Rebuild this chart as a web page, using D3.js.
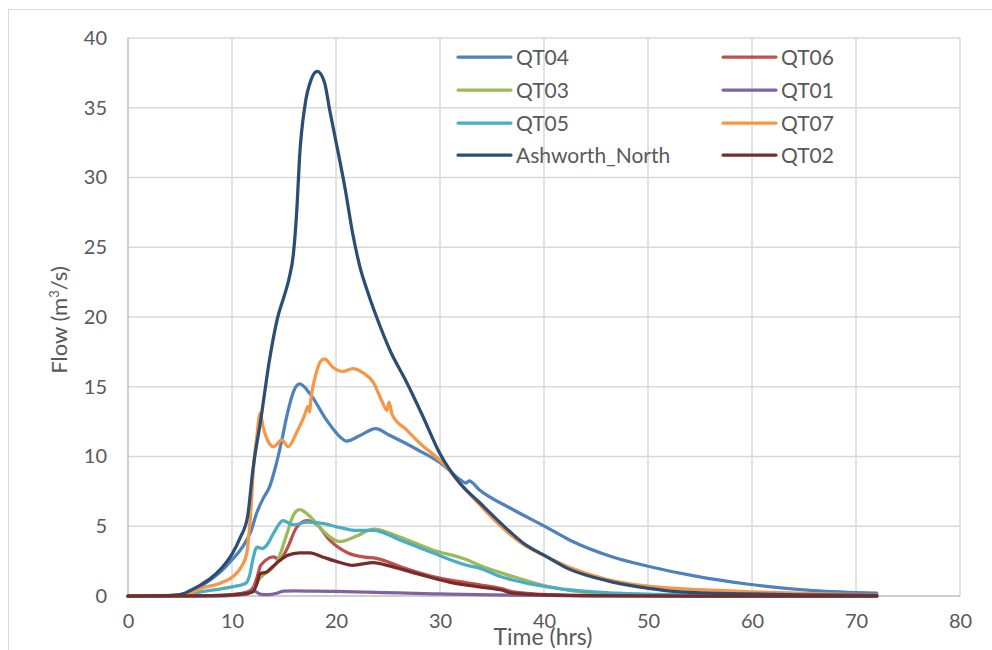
<!DOCTYPE html>
<html>
<head>
<meta charset="utf-8">
<script src="https://cdn.jsdelivr.net/npm/d3@7"></script>
<style>
  html, body { margin: 0; padding: 0; background: #fff; }
  svg { display: block; }
  text { font-family: Lato, "Open Sans", sans-serif; fill: #595959; }
</style>
</head>
<body>
<svg id="chart" width="992" height="650"></svg>
<script>
// ---- data ----
const xTicks = [0, 10, 20, 30, 40, 50, 60, 70, 80];
const yTicks = [0, 5, 10, 15, 20, 25, 30, 35, 40];
const seriesNames = ["QT04", "QT06", "QT03", "QT01", "QT05", "QT07", "Ashworth_North", "QT02"];
const seriesColors = ["#4F81BD", "#C0504D", "#9BBB59", "#8064A2", "#4BACC6", "#F79646", "#2C4D75", "#772C2A"];

const QT04 = [[0,0],[4,0.03],[5,0.1],[6,0.3],[7,0.7],[8,1.2],[9,1.8],[10,2.6],[11,3.5],[11.8,4.6],[12.4,6.0],[13,7.0],[13.6,7.8],[14.2,9.3],[14.8,11.2],[15.3,13.0],[16.0,14.8],[16.5,15.2],[17.5,14.5],[19.1,12.6],[20.4,11.4],[21,11.1],[22.3,11.5],[23.8,12.0],[25.2,11.5],[27.8,10.5],[30.3,9.4],[32,8.3],[32.5,8.1],[32.8,8.25],[33.8,7.6],[37,6.2],[40.3,4.9],[42.5,4.0],[46.6,2.8],[49.9,2.15],[54.7,1.4],[59.5,0.86],[65.9,0.38],[72,0.2]];
const QT06 = [[0,0],[8,0.02],[10,0.1],[11.5,0.3],[12,0.55],[12.4,1.3],[12.7,2.1],[13.0,2.4],[13.3,2.6],[14.0,2.8],[14.3,2.7],[14.6,2.6],[15.3,3.4],[16.2,4.9],[17.2,5.4],[18.2,5.1],[19.4,4.0],[21.1,3.1],[22.6,2.8],[23.9,2.7],[26.2,2.1],[29.3,1.4],[32.6,0.95],[33.8,0.8],[35.8,0.55],[37,0.3],[40.3,0.1],[45,0.03],[55,0.01],[72,0]];
const QT03 = [[0,0],[8,0.02],[10,0.05],[11.5,0.2],[12,0.4],[12.6,1.2],[13,1.5],[14.3,2.4],[15.3,4.5],[15.9,5.8],[16.5,6.2],[17.5,5.7],[18.7,4.7],[20.4,3.9],[22,4.3],[23.6,4.8],[26.2,4.2],[29.3,3.3],[32.6,2.6],[33.8,2.2],[37,1.4],[40.3,0.7],[43.5,0.3],[47,0.12],[52,0.04],[60,0.01],[72,0]];
const QT01 = [[0,0],[8,0.01],[10,0.05],[11.5,0.15],[12.0,0.5],[12.3,0.3],[12.8,0.12],[13.5,0.1],[14.3,0.2],[15,0.35],[16,0.36],[18,0.35],[20,0.33],[23,0.28],[26,0.22],[30,0.15],[35,0.08],[40,0.04],[45,0.01],[72,0]];
const QT05 = [[0,0],[5,0.05],[7,0.3],[10,0.65],[11.3,0.9],[11.7,1.5],[12,2.6],[12.4,3.5],[12.9,3.4],[13.4,3.7],[14,4.5],[14.9,5.4],[15.9,5.1],[17.2,5.3],[18.7,5.2],[20.4,4.9],[22,4.7],[23.6,4.7],[26.2,4.0],[29.3,3.1],[32.6,2.2],[33.8,2.0],[35.8,1.4],[37,1.15],[40.3,0.65],[43.5,0.36],[47,0.2],[53,0.08],[60,0.03],[72,0]];
const QT07 = [[0,0],[4,0.02],[5,0.05],[6,0.2],[7,0.55],[8.8,0.9],[10.4,1.6],[10.9,2.1],[11.4,3.0],[11.8,6],[12.1,9.5],[12.4,11.5],[12.7,13.1],[13.0,12.1],[13.4,11.2],[14,10.7],[14.8,11.2],[15.4,10.7],[16.2,11.7],[17.0,13.0],[17.3,13.6],[17.45,13.2],[17.6,14.2],[18,15.7],[18.5,16.8],[18.9,17.0],[19.7,16.4],[20.7,16.1],[21.6,16.3],[22.6,16.0],[23.6,15.3],[24.4,14.0],[24.9,13.3],[25.1,13.9],[25.4,13.0],[26.8,11.9],[28,11.0],[30.3,9.5],[32,8.0],[34,6.4],[36,4.9],[38,3.7],[40,2.9],[42.3,2.1],[46,1.2],[50,0.7],[55,0.45],[60,0.3],[66,0.17],[72,0.08]];
const Ashworth_North = [[0,0],[3,0.02],[5,0.1],[6,0.4],[7,0.8],[8,1.3],[9,2.0],[10,3.0],[10.8,4.2],[11.5,5.7],[12,9],[12.8,12.8],[13.6,16.9],[14.4,20],[15.1,21.7],[15.5,22.8],[15.9,24.5],[16.25,27.9],[16.5,31.5],[17.0,35.1],[17.6,37.0],[18.2,37.6],[18.9,36.8],[19.4,34.8],[20.1,32.2],[20.9,29.1],[21.6,26.0],[22.3,23.6],[23.0,21.9],[23.9,20.0],[25.2,17.6],[26.8,15.3],[28.4,12.8],[30,10.2],[31.9,8.1],[33.8,6.7],[36.3,4.9],[38,3.8],[40.3,2.8],[42.2,2.0],[44,1.5],[46.6,1.0],[49.9,0.57],[53.1,0.3],[59.5,0.15],[65,0.08],[72,0.05]];
const QT02 = [[0,0],[8,0.02],[10,0.08],[11.5,0.2],[12,0.3],[12.4,0.9],[12.7,1.6],[13.3,1.7],[13.9,2.1],[15.3,2.9],[16.5,3.1],[17.5,3.1],[18.7,2.8],[20.4,2.4],[21.6,2.2],[23.6,2.4],[24.9,2.2],[27.8,1.6],[30.9,1.0],[33.8,0.65],[35.8,0.45],[37,0.2],[40,0.08],[45,0.02],[55,0],[72,0]];

const seriesData = [QT04, QT06, QT03, QT01, QT05, QT07, Ashworth_North, QT02];

// ---- chart ----
const svg = d3.select("#chart");
const x = d3.scaleLinear().domain([0, 80]).range([128, 960]);
const y = d3.scaleLinear().domain([0, 40]).range([596, 38]);

// outer frame
svg.append("rect").attr("x", 8.5).attr("y", 9.5).attr("width", 1000).attr("height", 700)
  .attr("fill", "none").attr("stroke", "#d9d9d9").attr("stroke-width", 1);

// gridlines
const grid = svg.append("g");
grid.selectAll("line.h").data(yTicks.filter(d => d > 0)).join("line")
  .attr("x1", x(0)).attr("x2", x(80)).attr("y1", d => y(d)).attr("y2", d => y(d))
  .attr("stroke", "#d9d9d9").attr("stroke-width", 1.5);
grid.selectAll("line.v").data(xTicks.filter(d => d > 0)).join("line")
  .attr("y1", y(0)).attr("y2", y(40)).attr("x1", d => x(d)).attr("x2", d => x(d))
  .attr("stroke", "#d9d9d9").attr("stroke-width", 1.5);

// axes lines
svg.append("line").attr("x1", x(0)).attr("x2", x(0)).attr("y1", y(0)).attr("y2", y(40))
  .attr("stroke", "#bfbfbf").attr("stroke-width", 1.5);
svg.append("line").attr("x1", x(0)).attr("x2", x(80)).attr("y1", y(0)).attr("y2", y(0))
  .attr("stroke", "#bfbfbf").attr("stroke-width", 1.5);

// tick labels
const xAxis = d3.axisBottom(x).tickValues(xTicks).tickSize(0).tickPadding(0);
const gx = svg.append("g").attr("transform", `translate(0, ${y(0) + 22})`).call(xAxis);
gx.select(".domain").remove();
gx.selectAll("text").attr("font-size", 20).attr("font-family", "Lato").attr("fill", "#595959").attr("dy", "0.5em");

const yAxis = d3.axisLeft(y).tickValues(yTicks).tickSize(0).tickPadding(0);
const gy = svg.append("g").attr("transform", `translate(107, 0)`).call(yAxis);
gy.select(".domain").remove();
gy.selectAll("text").attr("font-size", 20).attr("font-family", "Lato").attr("fill", "#595959");

// axis titles
svg.append("text").attr("x", 543).attr("y", 645).attr("text-anchor", "middle")
  .attr("font-size", 23).text("Time (hrs)");
svg.append("text").attr("transform", `translate(67, 320) rotate(-90)`).attr("text-anchor", "middle")
  .attr("font-size", 22).html('Flow (m<tspan baseline-shift="super" font-size="13">3</tspan>/s)');

// lines
const line = d3.line().x(d => x(d[0])).y(d => y(d[1])).curve(d3.curveMonotoneX);
svg.append("g").selectAll("path").data(seriesData).join("path")
  .attr("d", d => line(d))
  .attr("fill", "none")
  .attr("stroke", (d, i) => seriesColors[i])
  .attr("stroke-width", 3.25)
  .attr("stroke-linejoin", "round")
  .attr("stroke-linecap", "round");

// legend
const legend = svg.append("g");
const legendCols = [458, 723];
const legendRows = [57, 90, 123, 155];
seriesNames.forEach((name, i) => {
  const cx = legendCols[i % 2];
  const cy = legendRows[Math.floor(i / 2)];
  legend.append("line").attr("x1", cx).attr("x2", cx + 53).attr("y1", cy).attr("y2", cy)
    .attr("stroke", seriesColors[i]).attr("stroke-width", 3.25).attr("stroke-linecap", "round");
  legend.append("text").attr("x", cx + 58).attr("y", cy).attr("dy", "0.36em")
    .attr("font-size", 21).text(name);
});
</script>
</body>
</html>
